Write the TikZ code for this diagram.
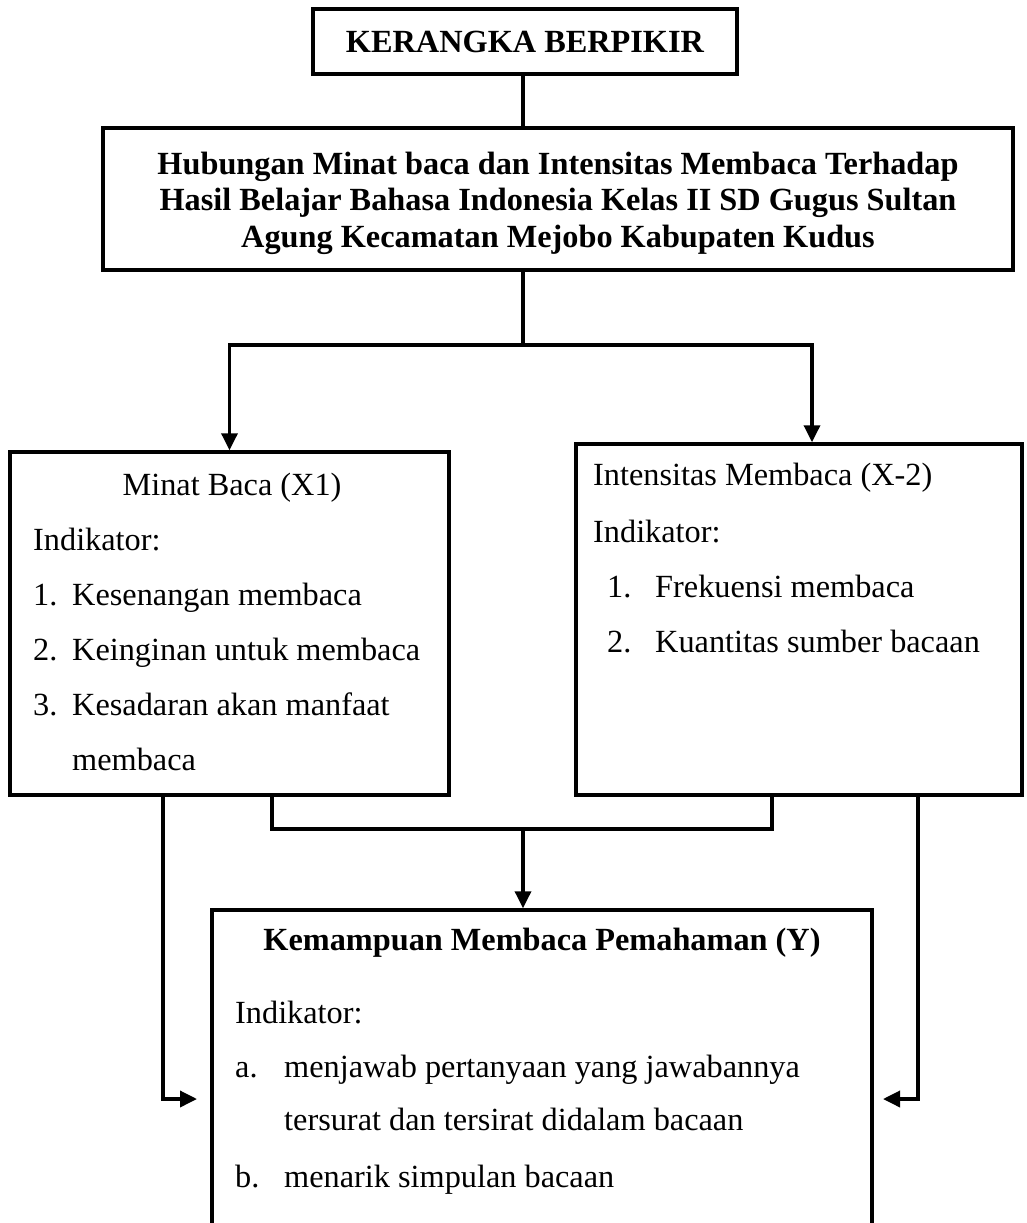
\documentclass[tikz,border=0pt]{standalone}
\usepackage{fontspec}
\setmainfont{Liberation Serif}
\usetikzlibrary{arrows.meta}

\tikzset{
  kotak/.style={draw,line width=3.5pt,inner sep=0pt},
  teks/.style={anchor=base west,inner sep=0pt},
  tebal/.style={font=\fontsize{32.3}{36.5}\selectfont\bfseries},
  garis/.style={line width=3.5pt},
  panah/.style={garis,-{Triangle[length=17pt,width=16pt]}}
}

\begin{document}
\begin{tikzpicture}[x=1pt,y=-1pt,font=\fontsize{32.3}{36.5}\selectfont]
  \useasboundingbox (0,0) rectangle (1026,1223);
  \clip (0,0) rectangle (1026,1223);

  % kotak-kotak
  \node[kotak,tebal,minimum width=424,minimum height=65] (judul) at (525,41.5) {KERANGKA BERPIKIR};
  \node[kotak,tebal,minimum width=910,minimum height=142,align=center] (hubungan) at (558,199)
    {};
  \node[tebal,align=center,inner sep=0pt] (judulhub) at (558,203)
    {Hubungan Minat baca dan Intensitas Membaca Terhadap\\
     Hasil Belajar Bahasa Indonesia Kelas II SD Gugus Sultan\\
     Agung Kecamatan Mejobo Kabupaten Kudus};
  \node[kotak,minimum width=439,minimum height=343] (minat) at (229.5,623.5) {};
  \node[kotak,minimum width=446,minimum height=351] (intensitas) at (799,619.5) {};
  \node[kotak,minimum width=660,minimum height=360] (kemampuan) at (542,1090) {};

  % isi minat baca
  \node[anchor=base,inner sep=0pt] (judulx) at (232,495) {Minat Baca (X1)};
  \node[teks] (indx) at (33,550) {Indikator:};
  \node[teks] (nx1) at (33,605) {1.};
  \node[teks] (x1) at (72,605) {Kesenangan membaca};
  \node[teks] (nx2) at (33,660) {2.};
  \node[teks] (x2) at (72,660) {Keinginan untuk membaca};
  \node[teks] (nx3) at (33,715) {3.};
  \node[teks] (x3) at (72,715) {Kesadaran akan manfaat};
  \node[teks] (x3b) at (72,770) {membaca};

  % isi intensitas membaca
  \node[teks] (judulxx) at (593,485) {Intensitas Membaca (X-2)};
  \node[teks] (indxx) at (593,542) {Indikator:};
  \node[teks] (nxx1) at (607,597) {1.};
  \node[teks] (xx1) at (655,597) {Frekuensi membaca};
  \node[teks] (nxx2) at (607,652) {2.};
  \node[teks] (xx2) at (655,652) {Kuantitas sumber bacaan};

  % isi kemampuan membaca
  \node[tebal,anchor=base,inner sep=0pt] (juduly) at (542,950) {Kemampuan Membaca Pemahaman (Y)};
  \node[teks] (indy) at (235,1023) {Indikator:};
  \node[teks] (ny1) at (235,1077) {a.};
  \node[teks] (y1) at (284,1077) {menjawab pertanyaan yang jawabannya};
  \node[teks] (y1b) at (284,1130) {tersurat dan tersirat didalam bacaan};
  \node[teks] (ny2) at (235,1187) {b.};
  \node[teks] (y2) at (284,1187) {menarik simpulan bacaan};

  % garis penghubung
  \coordinate (cabang) at (523,345);
  \coordinate (gabung) at (523,829);
  \coordinate (kiri) at (197,1099);
  \coordinate (kanan) at (883,1099);

  \draw[garis] (judul.south -| cabang) -- (hubungan.north -| cabang);
  \draw[garis] (hubungan.south -| cabang) -- (cabang);
  \draw[panah] (cabang) -| (minat.north);
  \draw[panah] (cabang) -| ([xshift=13]intensitas.north);

  \draw[garis] ([xshift=42.5]minat.south) |- (gabung) -| ([xshift=-27]intensitas.south);
  \draw[panah] (gabung) -- (gabung |- kemampuan.north);

  \draw[panah] ([xshift=-66.5]minat.south) |- (kiri);
  \draw[panah] ([xshift=119]intensitas.south) |- (kanan);
\end{tikzpicture}
\end{document}
